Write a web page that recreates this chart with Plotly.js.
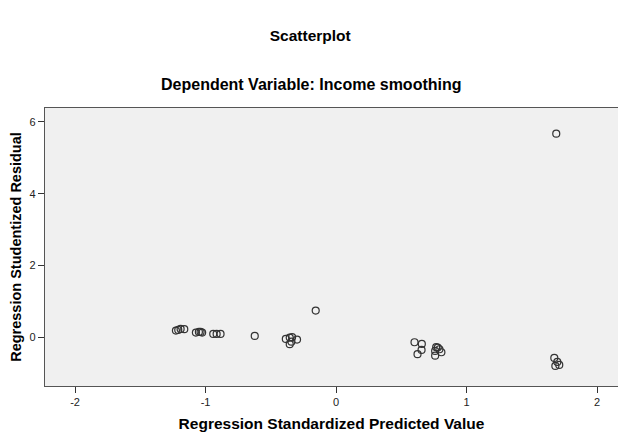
<!DOCTYPE html>
<html>
<head>
<meta charset="utf-8">
<script src="https://cdn.plot.ly/plotly-3.0.1.min.js"></script>
<style>html,body{margin:0;padding:0;background:#fff;}#chart{width:618px;height:432px;}</style>
</head>
<body>
<div id="chart"></div>
<script>
// Regression Standardized Predicted Value
var predicted = [
  -1.227, -1.209, -1.191, -1.163,
  -1.074, -1.051, -1.038, -1.026,
  -0.941, -0.915, -0.885,
  -0.623,
  -0.385, -0.355, -0.337, -0.299, -0.355, -0.342,
  -0.156,
  0.601, 0.657, 0.655, 0.624, 0.767, 0.792, 0.807, 0.759, 0.759, 0.779,
  1.672, 1.695, 1.680, 1.710,
  1.687
];
// Regression Studentized Residual
var residual = [
  0.184, 0.204, 0.232, 0.223,
  0.128, 0.148, 0.148, 0.128,
  0.092, 0.092, 0.092,
  0.036,
  -0.047, -0.011, 0.000, -0.067, -0.195, -0.123,
  0.742,
  -0.140, -0.187, -0.354, -0.474, -0.279, -0.335, -0.419, -0.382, -0.514, -0.290,
  -0.578, -0.689, -0.800, -0.773,
  5.674
];
var xTicks = [-2, -1, 0, 1, 2];
var yTicks = [0, 2, 4, 6];

var trace = {
  x: predicted,
  y: residual,
  type: 'scatter',
  mode: 'markers',
  marker: {symbol: 'circle-open', size: 7, color: '#333333', line: {width: 1.2, color: '#333333'}},
  hoverinfo: 'x+y'
};

var font = 'Liberation Sans, Arial, sans-serif';
var layout = {
  width: 618,
  height: 432,
  margin: {l: 45, r: 0, t: 108, b: 46},
  paper_bgcolor: '#ffffff',
  plot_bgcolor: '#f0f0f0',
  showlegend: false,
  font: {family: font, size: 11, color: '#222'},
  title: {
    text: '<b>Scatterplot</b>',
    font: {family: font, size: 15.5, color: '#000'},
    xref: 'container', yref: 'container',
    x: 0.502, y: 0.917, xanchor: 'center', yanchor: 'middle'
  },
  annotations: [{
    text: '<b>Dependent Variable: Income smoothing</b>',
    xref: 'paper', yref: 'paper',
    x: 0.465, y: 1.0, xanchor: 'center', yanchor: 'bottom', yshift: 13,
    showarrow: false,
    font: {family: font, size: 16, color: '#000'}
  }],
  xaxis: {
    range: [-2.23, 2.16],
    tickvals: xTicks,
    ticktext: xTicks.map(String),
    ticks: 'outside', ticklen: 6, tickwidth: 1, tickcolor: '#333',
    showgrid: false, zeroline: false,
    showline: true, linecolor: '#555', linewidth: 1.2, mirror: true,
    tickfont: {family: font, size: 11, color: '#222'},
    title: {text: '<b>Regression Standardized Predicted Value</b>', font: {family: font, size: 15.5, color: '#000'}, standoff: 10}
  },
  yaxis: {
    range: [-1.36, 6.39],
    tickvals: yTicks,
    ticktext: yTicks.map(String),
    ticks: 'outside', ticklen: 6, tickwidth: 1, tickcolor: '#333',
    showgrid: false, zeroline: false,
    showline: true, linecolor: '#555', linewidth: 1.2, mirror: true,
    tickfont: {family: font, size: 11, color: '#222'},
    title: {text: '<b>Regression Studentized Residual</b>', font: {family: font, size: 14.5, color: '#000'}, standoff: 4}
  }
};

Plotly.newPlot('chart', [trace], layout, {displayModeBar: false, staticPlot: true});
</script>
</body>
</html>
